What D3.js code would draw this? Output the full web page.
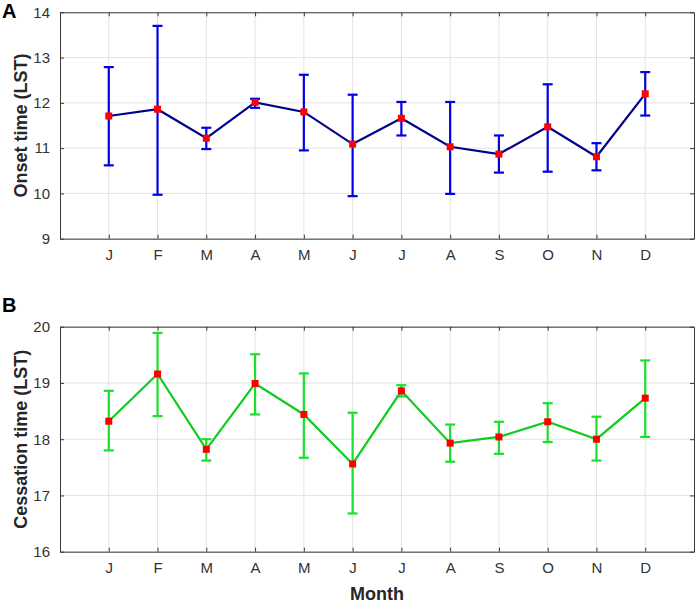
<!DOCTYPE html>
<html>
<head>
<meta charset="utf-8">
<script src="https://cdn.jsdelivr.net/npm/d3@7"></script>
<style>
  body { margin: 0; background: #fff; }
  svg text { font-family: "Liberation Sans", Arial, sans-serif; }
</style>
</head>
<body>
<div id="chart"></div>
<script>
var months = ["J", "F", "M", "A", "M", "J", "J", "A", "S", "O", "N", "D"];

// Panel A: onset time
var onsetMean = [11.71, 11.86, 11.22, 12.01, 11.80, 11.09, 11.66, 11.03, 10.87, 11.47, 10.81, 12.20];
var onsetHigh = [12.79, 13.70, 11.45, 12.09, 12.62, 12.18, 12.02, 12.02, 11.28, 12.41, 11.11, 12.68];
var onsetLow  = [10.62, 9.97, 10.98, 11.89, 10.95, 9.94, 11.28, 9.99, 10.46, 10.48, 10.51, 11.72];
var onsetTicks = [9, 10, 11, 12, 13, 14];

// Panel B: cessation time
var cessMean = [18.32, 19.16, 17.82, 18.99, 18.44, 17.56, 18.86, 17.93, 18.04, 18.31, 18.00, 18.73];
var cessHigh = [18.86, 19.89, 18.00, 19.51, 19.17, 18.47, 18.96, 18.26, 18.31, 18.64, 18.40, 19.40];
var cessLow  = [17.80, 18.41, 17.62, 18.44, 17.67, 16.68, 18.76, 17.60, 17.74, 17.95, 17.62, 18.04];
var cessTicks = [16, 17, 18, 19, 20];

var width = 699, height = 609;

var svg = d3.select("#chart").append("svg")
	.attr("width", width)
	.attr("height", height);

var xScale = d3.scaleLinear().domain([0, 13]).range([60, 694]);

function drawPanel(opt){
	var yScale = d3.scaleLinear().domain(opt.domain).range([opt.bottom, opt.top]);
	var g = svg.append("g");
	var idx = d3.range(months.length);

	//Grid
	g.selectAll(".vgrid").data(idx).enter().append("line")
		.attr("x1", function(i){ return xScale(i + 1); })
		.attr("x2", function(i){ return xScale(i + 1); })
		.attr("y1", opt.top).attr("y2", opt.bottom)
		.attr("stroke", "#e3e3e3").attr("stroke-width", 1);
	g.selectAll(".hgrid").data(opt.ticks).enter().append("line")
		.attr("x1", xScale(0)).attr("x2", xScale(13))
		.attr("y1", function(d){ return yScale(d); })
		.attr("y2", function(d){ return yScale(d); })
		.attr("stroke", "#e3e3e3").attr("stroke-width", 1);

	//Axes (inner ticks, MATLAB box style)
	var xAxis = d3.axisBottom(xScale)
		.tickValues(d3.range(1, 13))
		.tickFormat(function(d){ return months[d - 1]; })
		.tickSizeInner(-4).tickSizeOuter(0).tickPadding(11);
	var xTop = d3.axisTop(xScale).tickValues(d3.range(1, 13))
		.tickFormat("").tickSizeInner(-4).tickSizeOuter(0);
	var yAxis = d3.axisLeft(yScale).tickValues(opt.ticks)
		.tickFormat(d3.format("d"))
		.tickSizeInner(-4).tickSizeOuter(0).tickPadding(10);
	var yRight = d3.axisRight(yScale).tickValues(opt.ticks)
		.tickFormat("").tickSizeInner(-4).tickSizeOuter(0);

	g.append("g").attr("transform", "translate(0," + opt.bottom + ")").call(xAxis);
	g.append("g").attr("transform", "translate(0," + opt.top + ")").call(xTop);
	g.append("g").attr("transform", "translate(" + xScale(0) + ",0)").call(yAxis);
	g.append("g").attr("transform", "translate(" + xScale(13) + ",0)").call(yRight);

	g.selectAll(".domain").attr("stroke", "#3a3a3a");
	g.selectAll(".tick line").attr("stroke", "#3a3a3a");
	g.selectAll(".tick text").attr("fill", "#333333").style("font-size", "15px");

	//Error bars
	var cap = 5;
	var eb = g.append("g").attr("stroke", opt.errColor).attr("stroke-width", 2.2).attr("fill", "none");
	idx.forEach(function(i){
		var x = xScale(i + 1);
		eb.append("line").attr("x1", x).attr("x2", x)
			.attr("y1", yScale(opt.low[i])).attr("y2", yScale(opt.high[i]));
		eb.append("line").attr("x1", x - cap).attr("x2", x + cap)
			.attr("y1", yScale(opt.low[i])).attr("y2", yScale(opt.low[i]));
		eb.append("line").attr("x1", x - cap).attr("x2", x + cap)
			.attr("y1", yScale(opt.high[i])).attr("y2", yScale(opt.high[i]));
	});

	//Mean line
	var line = d3.line()
		.x(function(d, i){ return xScale(i + 1); })
		.y(function(d){ return yScale(d); });
	g.append("path").datum(opt.mean)
		.attr("d", line)
		.attr("fill", "none")
		.attr("stroke", opt.lineColor)
		.attr("stroke-width", 2.2);

	//Markers
	var ms = 7;
	g.selectAll(".marker").data(opt.mean).enter().append("rect")
		.attr("x", function(d, i){ return xScale(i + 1) - ms / 2; })
		.attr("y", function(d){ return yScale(d) - ms / 2; })
		.attr("width", ms).attr("height", ms)
		.attr("fill", "#ff0000");

	//Y label
	svg.append("text")
		.attr("text-anchor", "middle")
		.attr("transform", "translate(27," + ((opt.top + opt.bottom) / 2) + ")rotate(-90)")
		.style("font-size", "18px").style("font-weight", "bold").attr("fill", "#262626")
		.text(opt.yLabel);

	//Panel letter
	svg.append("text")
		.attr("x", 2).attr("y", opt.letterY)
		.style("font-size", "20px").style("font-weight", "bold").attr("fill", "#000")
		.text(opt.letter);
}

drawPanel({
	top: 12.3, bottom: 238.7, domain: [9, 14], ticks: onsetTicks,
	mean: onsetMean, high: onsetHigh, low: onsetLow,
	lineColor: "#00008c", errColor: "#0000e6",
	yLabel: "Onset time (LST)", letter: "A", letterY: 18
});

drawPanel({
	top: 326.7, bottom: 551.7, domain: [16, 20], ticks: cessTicks,
	mean: cessMean, high: cessHigh, low: cessLow,
	lineColor: "#10cc20", errColor: "#19e02a",
	yLabel: "Cessation time (LST)", letter: "B", letterY: 312
});

//X label
svg.append("text")
	.attr("x", (xScale(0) + xScale(13)) / 2).attr("y", 600)
	.attr("text-anchor", "middle")
	.style("font-size", "18px").style("font-weight", "bold").attr("fill", "#262626")
	.text("Month");
</script>
</body>
</html>
